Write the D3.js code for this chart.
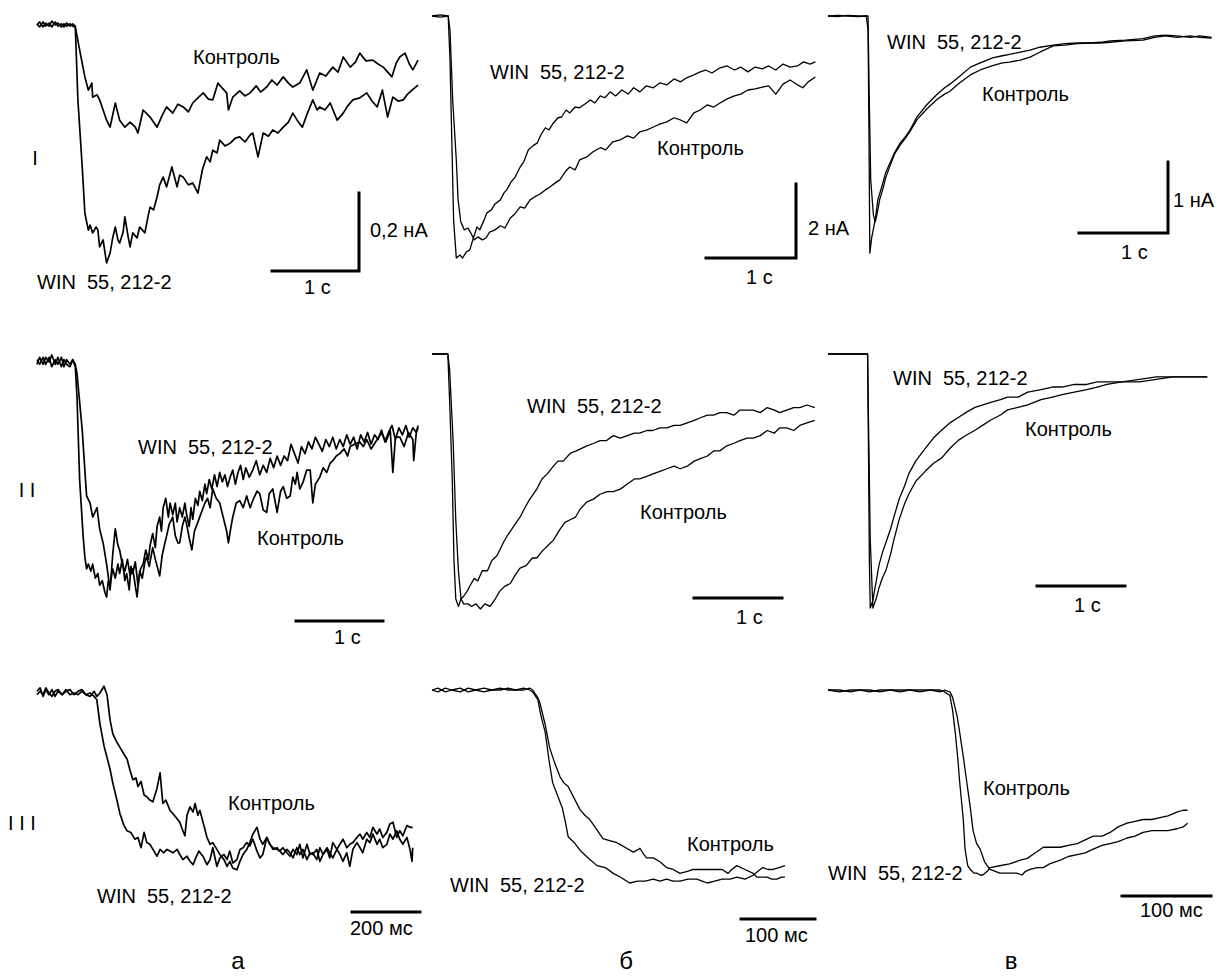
<!DOCTYPE html>
<html><head><meta charset="utf-8">
<script src="https://cdn.jsdelivr.net/npm/d3@7/dist/d3.min.js"></script>
<style>
body{margin:0;background:#fff}
svg text{font-family:"Liberation Sans",Arial,sans-serif;font-size:20px;fill:#000;white-space:pre}
.trace{fill:none;stroke:#000;stroke-width:1.3;stroke-linejoin:round}
.trace.noisy{stroke-width:1.7}
.bar{fill:none;stroke:#000;stroke-width:3;stroke-linecap:square}
</style></head><body>
<div id="fig"></div>
<script>
// traces: [time, current]. rows I-II: time in s; row III: time in ms
// row I currents: a in pA, b and c in nA; rows II-III normalized to peak

// --- column a ---
var aI_ctrl = [[0,0],[0.03,8],[0.07,-5],[0.10,5],[0.14,-3],[0.17,10],[0.21,0],[0.24,5],[0.28,-5],[0.31,3],[0.34,-3],[0.38,3],[0.41,-3],[0.44,-5],[0.49,-64],[0.55,-133],[0.59,-167],[0.63,-149],[0.64,-185],[0.69,-179],[0.72,-192],[0.76,-218],[0.80,-244],[0.84,-262],[0.90,-200],[0.95,-244],[1.01,-262],[1.07,-249],[1.13,-262],[1.16,-277],[1.22,-218],[1.30,-236],[1.38,-262],[1.44,-231],[1.49,-210],[1.56,-226],[1.62,-203],[1.68,-210],[1.74,-223],[1.79,-200],[1.85,-187],[1.91,-174],[1.97,-190],[2.02,-192],[2.08,-149],[2.13,-162],[2.18,-174],[2.20,-218],[2.25,-185],[2.33,-169],[2.39,-182],[2.45,-174],[2.52,-156],[2.57,-172],[2.64,-159],[2.70,-141],[2.76,-154],[2.83,-133],[2.89,-149],[2.94,-159],[3.02,-149],[3.10,-115],[3.17,-167],[3.25,-123],[3.32,-131],[3.40,-108],[3.46,-121],[3.52,-82],[3.60,-108],[3.66,-95],[3.71,-72],[3.78,-92],[3.86,-90],[3.92,-100],[3.98,-108],[4.08,-133],[4.13,-97],[4.17,-82],[4.23,-72],[4.28,-100],[4.32,-115],[4.38,-90]];
var aI_win = [[0,3],[0.03,-5],[0.07,8],[0.10,-3],[0.14,5],[0.17,-5],[0.21,8],[0.24,-3],[0.28,3],[0.31,-5],[0.34,5],[0.38,-3],[0.41,3],[0.44,-3],[0.47,-192],[0.52,-364],[0.55,-482],[0.59,-526],[0.61,-513],[0.64,-533],[0.68,-518],[0.70,-526],[0.72,-569],[0.76,-551],[0.78,-582],[0.80,-610],[0.84,-585],[0.87,-546],[0.90,-518],[0.93,-551],[0.95,-559],[0.99,-531],[1.01,-492],[1.05,-546],[1.07,-569],[1.10,-533],[1.15,-546],[1.18,-518],[1.24,-533],[1.28,-487],[1.30,-467],[1.34,-474],[1.38,-441],[1.41,-410],[1.45,-390],[1.49,-415],[1.55,-364],[1.61,-415],[1.64,-385],[1.68,-390],[1.74,-410],[1.79,-405],[1.85,-431],[1.90,-372],[1.95,-338],[1.99,-351],[2.02,-321],[2.07,-328],[2.10,-295],[2.16,-310],[2.22,-303],[2.28,-290],[2.33,-287],[2.39,-300],[2.45,-282],[2.48,-277],[2.54,-338],[2.60,-277],[2.66,-285],[2.71,-269],[2.77,-277],[2.83,-262],[2.89,-249],[2.94,-226],[2.99,-244],[3.05,-262],[3.10,-231],[3.17,-192],[3.22,-218],[3.25,-210],[3.31,-218],[3.37,-200],[3.45,-244],[3.52,-226],[3.57,-208],[3.63,-192],[3.71,-187],[3.79,-174],[3.85,-195],[3.91,-210],[3.97,-167],[4.03,-236],[4.09,-185],[4.15,-195],[4.21,-192],[4.26,-177],[4.31,-167],[4.38,-154]];
var aII_win = [[0,-0.01],[0.03,0.02],[0.07,-0.01],[0.10,0.02],[0.14,0],[0.17,0.03],[0.21,-0.01],[0.24,0.02],[0.28,-0.02],[0.31,0.01],[0.34,-0.01],[0.38,-0.02],[0.41,0.01],[0.44,-0.02],[0.46,-0.15],[0.49,-0.50],[0.53,-0.74],[0.55,-0.83],[0.57,-0.88],[0.59,-0.86],[0.62,-0.89],[0.64,-0.86],[0.67,-0.92],[0.70,-0.90],[0.72,-0.95],[0.75,-0.93],[0.78,-0.98],[0.80,-1.00],[0.82,-0.93],[0.84,-0.95],[0.87,-0.88],[0.90,-0.92],[0.93,-0.86],[0.95,-0.90],[0.98,-0.84],[1.01,-0.93],[1.03,-0.90],[1.06,-0.97],[1.08,-0.87],[1.10,-0.90],[1.13,-0.85],[1.16,-0.95],[1.19,-0.88],[1.22,-0.86],[1.25,-0.80],[1.28,-0.84],[1.30,-0.78],[1.33,-0.73],[1.36,-0.79],[1.38,-0.70],[1.41,-0.66],[1.43,-0.72],[1.45,-0.62],[1.48,-0.58],[1.51,-0.66],[1.53,-0.60],[1.56,-0.65],[1.59,-0.60],[1.61,-0.68],[1.64,-0.62],[1.67,-0.66],[1.70,-0.60],[1.72,-0.65],[1.75,-0.70],[1.77,-0.62],[1.79,-0.67],[1.82,-0.58],[1.85,-0.61],[1.87,-0.55],[1.90,-0.59],[1.93,-0.52],[1.95,-0.56],[1.98,-0.50],[2.01,-0.54],[2.04,-0.48],[2.07,-0.53],[2.10,-0.47],[2.13,-0.51],[2.16,-0.48],[2.19,-0.53],[2.22,-0.49],[2.25,-0.46],[2.28,-0.52],[2.31,-0.47],[2.34,-0.44],[2.37,-0.50],[2.40,-0.45],[2.44,-0.49],[2.48,-0.46],[2.52,-0.42],[2.56,-0.48],[2.60,-0.44],[2.64,-0.47],[2.68,-0.41],[2.72,-0.45],[2.76,-0.40],[2.80,-0.44],[2.84,-0.40],[2.88,-0.42],[2.92,-0.35],[2.96,-0.39],[3.00,-0.43],[3.04,-0.36],[3.08,-0.39],[3.12,-0.34],[3.16,-0.37],[3.20,-0.32],[3.24,-0.35],[3.28,-0.38],[3.32,-0.33],[3.36,-0.36],[3.40,-0.32],[3.44,-0.37],[3.48,-0.33],[3.52,-0.36],[3.56,-0.31],[3.60,-0.35],[3.64,-0.32],[3.68,-0.37],[3.72,-0.31],[3.76,-0.34],[3.80,-0.30],[3.84,-0.35],[3.88,-0.31],[3.92,-0.33],[3.96,-0.29],[4.00,-0.34],[4.04,-0.30],[4.08,-0.27],[4.12,-0.33],[4.16,-0.28],[4.20,-0.31],[4.24,-0.27],[4.28,-0.32],[4.32,-0.28],[4.36,-0.30],[4.38,-0.27]];
var aII_ctrl = [[0,0.01],[0.03,-0.01],[0.07,0.02],[0.10,-0.01],[0.14,0.02],[0.17,-0.02],[0.21,0.01],[0.24,-0.01],[0.28,0.02],[0.31,-0.02],[0.34,0.01],[0.38,-0.01],[0.41,0.01],[0.44,-0.01],[0.46,-0.05],[0.52,-0.29],[0.55,-0.46],[0.57,-0.57],[0.61,-0.60],[0.64,-0.66],[0.69,-0.62],[0.72,-0.71],[0.76,-0.77],[0.80,-0.86],[0.84,-0.97],[0.87,-0.82],[0.90,-0.71],[0.93,-0.78],[0.95,-0.80],[0.98,-0.86],[1.01,-0.89],[1.04,-0.84],[1.07,-0.91],[1.10,-0.88],[1.15,-1.00],[1.18,-0.89],[1.21,-0.92],[1.24,-0.85],[1.26,-0.83],[1.29,-0.87],[1.33,-0.79],[1.36,-0.84],[1.41,-0.91],[1.44,-0.82],[1.47,-0.77],[1.49,-0.74],[1.52,-0.69],[1.56,-0.66],[1.59,-0.74],[1.62,-0.77],[1.64,-0.77],[1.67,-0.70],[1.70,-0.66],[1.72,-0.69],[1.75,-0.75],[1.78,-0.80],[1.81,-0.72],[1.84,-0.69],[1.87,-0.66],[1.90,-0.63],[1.93,-0.60],[1.96,-0.58],[1.99,-0.62],[2.02,-0.54],[2.06,-0.58],[2.10,-0.60],[2.14,-0.66],[2.18,-0.72],[2.20,-0.77],[2.23,-0.70],[2.25,-0.66],[2.29,-0.60],[2.33,-0.59],[2.37,-0.62],[2.41,-0.57],[2.45,-0.62],[2.49,-0.58],[2.53,-0.55],[2.56,-0.56],[2.60,-0.63],[2.64,-0.64],[2.67,-0.56],[2.71,-0.54],[2.74,-0.60],[2.76,-0.64],[2.80,-0.55],[2.83,-0.53],[2.87,-0.58],[2.91,-0.57],[2.94,-0.49],[2.97,-0.52],[2.99,-0.47],[3.02,-0.54],[3.06,-0.51],[3.10,-0.46],[3.14,-0.46],[3.17,-0.60],[3.20,-0.52],[3.25,-0.49],[3.29,-0.45],[3.33,-0.47],[3.37,-0.43],[3.40,-0.42],[3.44,-0.40],[3.48,-0.39],[3.53,-0.37],[3.57,-0.40],[3.60,-0.36],[3.65,-0.35],[3.71,-0.34],[3.75,-0.36],[3.79,-0.33],[3.84,-0.37],[3.91,-0.33],[3.96,-0.30],[4.01,-0.34],[4.06,-0.29],[4.09,-0.47],[4.12,-0.32],[4.17,-0.32],[4.22,-0.36],[4.27,-0.30],[4.32,-0.33],[4.33,-0.42],[4.36,-0.30],[4.38,-0.28]];
var aIII_win = [[0,0.01],[9,0.03],[18,-0.02],[26,0.02],[35,-0.01],[44,0.02],[53,-0.02],[62,0.01],[74,-0.01],[85,0.02],[97,-0.01],[109,0],[121,-0.01],[132,0.01],[144,-0.01],[156,0],[168,-0.02],[176,-0.04],[185,-0.18],[197,-0.31],[206,-0.38],[215,-0.45],[223,-0.53],[235,-0.63],[244,-0.71],[256,-0.78],[265,-0.81],[276,-0.82],[288,-0.86],[297,-0.85],[306,-0.91],[315,-0.82],[323,-0.88],[332,-0.89],[341,-0.92],[353,-0.96],[362,-0.92],[373,-0.94],[382,-0.92],[391,-0.93],[400,-0.94],[412,-0.92],[420,-0.95],[429,-0.98],[441,-0.96],[450,-0.99],[459,-1.01],[467,-0.97],[476,-0.93],[488,-0.96],[500,-1.01],[509,-0.98],[517,-0.91],[529,-1.02],[538,-0.97],[550,-0.95],[559,-0.98],[567,-0.93],[576,-1.00],[588,-0.98],[597,-0.92],[606,-0.91],[617,-0.88],[626,-0.90],[635,-0.86],[647,-0.93],[656,-0.97],[664,-0.95],[676,-0.85],[685,-0.89],[694,-0.91],[706,-0.92],[714,-0.93],[723,-0.91],[735,-0.94],[744,-0.96],[753,-0.92],[764,-0.95],[773,-0.89],[782,-0.97],[794,-0.89],[803,-0.95],[811,-0.94],[823,-0.98],[832,-0.91],[841,-0.95],[853,-0.92],[861,-0.97],[870,-0.88],[882,-0.92],[891,-0.89],[900,-0.86],[911,-0.91],[920,-0.89],[929,-0.88],[941,-0.85],[950,-0.83],[958,-0.86],[970,-0.82],[979,-0.85],[988,-0.79],[1000,-0.83],[1008,-0.80],[1017,-0.85],[1029,-0.82],[1038,-0.77],[1047,-0.76],[1058,-0.85],[1067,-0.81],[1076,-0.84],[1088,-0.78],[1097,-0.79],[1105,-0.79]];
var aIII_ctrl = [[0,-0.01],[9,0.01],[18,-0.01],[26,0.03],[35,0],[44,-0.02],[53,0.01],[62,0.02],[74,-0.01],[85,0.01],[97,0.02],[109,-0.01],[121,0.01],[132,0.02],[144,-0.01],[156,-0.02],[168,0.01],[176,-0.02],[185,0],[197,0.04],[206,-0.01],[215,-0.16],[223,-0.24],[235,-0.29],[244,-0.32],[256,-0.36],[265,-0.39],[273,-0.45],[282,-0.51],[291,-0.50],[297,-0.55],[306,-0.52],[315,-0.60],[323,-0.61],[332,-0.63],[341,-0.64],[353,-0.56],[362,-0.47],[370,-0.65],[379,-0.63],[391,-0.69],[400,-0.71],[412,-0.74],[420,-0.76],[429,-0.81],[435,-0.84],[441,-0.72],[450,-0.67],[459,-0.70],[465,-0.65],[473,-0.72],[479,-0.69],[491,-0.78],[500,-0.85],[509,-0.89],[517,-0.88],[529,-0.92],[538,-0.95],[550,-0.98],[559,-1.02],[567,-0.99],[576,-1.03],[588,-1.04],[597,-0.99],[606,-0.95],[617,-0.92],[626,-0.88],[635,-0.83],[647,-0.79],[656,-0.86],[664,-0.89],[676,-0.85],[685,-0.89],[694,-0.92],[706,-0.91],[714,-0.93],[723,-0.95],[735,-0.92],[744,-0.94],[753,-0.97],[764,-0.91],[773,-0.95],[782,-0.92],[794,-0.98],[803,-0.94],[811,-0.95],[823,-0.92],[832,-0.99],[841,-0.95],[853,-0.91],[861,-0.94],[870,-0.97],[882,-0.92],[891,-0.95],[900,-0.99],[911,-0.94],[920,-1.02],[929,-0.92],[941,-0.88],[950,-0.91],[958,-0.94],[970,-0.86],[979,-0.88],[988,-0.83],[1000,-0.89],[1008,-0.86],[1017,-0.91],[1029,-0.89],[1038,-0.83],[1047,-0.86],[1058,-0.81],[1067,-0.86],[1076,-0.89],[1088,-0.85],[1097,-0.92],[1103,-0.99],[1105,-0.91]];

// --- column б ---
var bI_win = [[0,0],[0.09,0.03],[0.18,0],[0.20,-1.19],[0.22,-3.35],[0.24,-5.51],[0.27,-6.54],[0.31,-6.46],[0.34,-6.54],[0.38,-6.38],[0.42,-6.32],[0.46,-6.00],[0.50,-5.70],[0.53,-5.78],[0.58,-5.51],[0.61,-5.32],[0.66,-5.24],[0.70,-5.08],[0.76,-4.97],[0.80,-4.78],[0.83,-4.70],[0.88,-4.48],[0.92,-4.37],[0.98,-4.08],[1.02,-3.94],[1.07,-3.62],[1.12,-3.51],[1.17,-3.43],[1.21,-3.21],[1.26,-3.02],[1.30,-3.08],[1.34,-2.92],[1.40,-2.75],[1.44,-2.73],[1.49,-2.54],[1.53,-2.62],[1.59,-2.46],[1.64,-2.48],[1.70,-2.38],[1.76,-2.27],[1.81,-2.35],[1.87,-2.16],[1.92,-2.21],[1.98,-2.05],[2.04,-2.16],[2.11,-2.00],[2.18,-2.11],[2.24,-1.94],[2.31,-2.05],[2.38,-1.89],[2.46,-1.94],[2.53,-1.81],[2.61,-1.86],[2.69,-1.70],[2.76,-1.78],[2.83,-1.67],[2.91,-1.59],[2.98,-1.51],[3.04,-1.46],[3.11,-1.54],[3.20,-1.40],[3.28,-1.35],[3.36,-1.46],[3.43,-1.38],[3.51,-1.51],[3.59,-1.38],[3.67,-1.43],[3.74,-1.35],[3.82,-1.46],[3.90,-1.30],[3.98,-1.38],[4.06,-1.35],[4.13,-1.24],[4.20,-1.30],[4.26,-1.24]];
var bI_ctrl = [[0,0],[0.09,-0.03],[0.18,0],[0.20,-0.38],[0.23,-2.27],[0.27,-3.89],[0.29,-4.97],[0.32,-5.57],[0.36,-5.78],[0.40,-5.73],[0.43,-5.86],[0.47,-6.05],[0.51,-5.97],[0.56,-6.05],[0.60,-6.00],[0.64,-5.84],[0.70,-5.78],[0.76,-5.67],[0.81,-5.73],[0.87,-5.46],[0.92,-5.35],[0.98,-5.16],[1.03,-5.19],[1.09,-4.97],[1.14,-4.89],[1.20,-4.81],[1.26,-4.70],[1.31,-4.62],[1.37,-4.51],[1.42,-4.43],[1.48,-4.21],[1.53,-4.08],[1.59,-4.16],[1.64,-3.89],[1.72,-3.81],[1.79,-3.67],[1.87,-3.56],[1.93,-3.62],[2.01,-3.40],[2.09,-3.35],[2.17,-3.24],[2.24,-3.30],[2.31,-3.13],[2.39,-3.08],[2.46,-3.00],[2.53,-2.92],[2.61,-2.86],[2.69,-2.75],[2.76,-2.81],[2.83,-2.89],[2.91,-2.62],[2.98,-2.54],[3.06,-2.40],[3.13,-2.46],[3.20,-2.35],[3.28,-2.24],[3.36,-2.16],[3.43,-2.11],[3.51,-2.00],[3.59,-1.97],[3.67,-1.92],[3.74,-1.89],[3.82,-2.11],[3.90,-1.84],[3.98,-1.73],[4.06,-1.86],[4.12,-1.94],[4.18,-1.78],[4.26,-1.65]];
var bII_win = [[0,0],[0.09,0],[0.18,0],[0.20,-0.18],[0.23,-0.49],[0.25,-0.81],[0.27,-0.96],[0.30,-0.99],[0.33,-0.96],[0.36,-0.95],[0.40,-0.93],[0.43,-0.91],[0.48,-0.88],[0.52,-0.89],[0.57,-0.85],[0.63,-0.85],[0.68,-0.81],[0.74,-0.79],[0.81,-0.74],[0.86,-0.71],[0.92,-0.68],[1.00,-0.64],[1.06,-0.60],[1.11,-0.57],[1.19,-0.53],[1.25,-0.49],[1.31,-0.47],[1.38,-0.44],[1.43,-0.42],[1.49,-0.42],[1.57,-0.39],[1.64,-0.38],[1.70,-0.37],[1.76,-0.36],[1.84,-0.35],[1.91,-0.34],[1.98,-0.34],[2.06,-0.32],[2.14,-0.33],[2.22,-0.32],[2.30,-0.31],[2.36,-0.31],[2.44,-0.30],[2.51,-0.30],[2.59,-0.29],[2.67,-0.29],[2.75,-0.28],[2.82,-0.28],[2.90,-0.27],[2.98,-0.26],[3.05,-0.25],[3.13,-0.24],[3.20,-0.24],[3.27,-0.23],[3.35,-0.23],[3.43,-0.24],[3.50,-0.22],[3.58,-0.22],[3.65,-0.22],[3.73,-0.23],[3.81,-0.21],[3.89,-0.22],[3.95,-0.23],[4.03,-0.22],[4.11,-0.21],[4.18,-0.21],[4.26,-0.20],[4.35,-0.21]];
var bII_ctrl = [[0,0],[0.09,0],[0.18,0],[0.20,-0.06],[0.24,-0.34],[0.27,-0.65],[0.30,-0.85],[0.33,-0.96],[0.36,-0.98],[0.41,-0.98],[0.45,-0.99],[0.50,-0.98],[0.55,-1.00],[0.60,-0.98],[0.66,-0.99],[0.72,-0.96],[0.77,-0.93],[0.83,-0.91],[0.89,-0.90],[0.94,-0.87],[1.00,-0.84],[1.07,-0.83],[1.14,-0.80],[1.19,-0.80],[1.26,-0.77],[1.32,-0.75],[1.38,-0.73],[1.45,-0.69],[1.51,-0.66],[1.57,-0.65],[1.63,-0.64],[1.68,-0.61],[1.76,-0.58],[1.83,-0.57],[1.91,-0.55],[1.99,-0.54],[2.06,-0.54],[2.14,-0.53],[2.22,-0.51],[2.30,-0.49],[2.36,-0.49],[2.44,-0.48],[2.51,-0.47],[2.59,-0.46],[2.67,-0.45],[2.75,-0.44],[2.82,-0.45],[2.90,-0.44],[2.98,-0.42],[3.05,-0.41],[3.13,-0.40],[3.20,-0.38],[3.27,-0.38],[3.35,-0.36],[3.43,-0.35],[3.50,-0.34],[3.58,-0.33],[3.65,-0.33],[3.73,-0.32],[3.81,-0.30],[3.89,-0.31],[3.95,-0.29],[4.03,-0.29],[4.11,-0.30],[4.18,-0.28],[4.26,-0.27],[4.35,-0.26]];
var bIII_win = [[0,0],[8,0.01],[18,-0.01],[27,0],[38,-0.01],[49,0.01],[59,0],[70,-0.01],[81,0],[92,0.01],[103,0],[113,0],[124,0.01],[132,0],[136,-0.01],[143,-0.05],[147,-0.13],[153,-0.22],[158,-0.36],[163,-0.48],[169,-0.54],[176,-0.61],[180,-0.68],[184,-0.76],[192,-0.79],[200,-0.83],[211,-0.87],[223,-0.91],[234,-0.92],[245,-0.95],[255,-0.97],[267,-1.00],[278,-0.99],[288,-0.99],[299,-0.98],[308,-0.99],[317,-0.98],[326,-0.99],[335,-0.99],[346,-0.98],[358,-0.98],[365,-0.99],[372,-1.00],[382,-0.99],[392,-0.98],[403,-0.98],[412,-0.97],[423,-0.98],[434,-0.96],[440,-0.94],[447,-0.92],[454,-0.93],[461,-0.93],[469,-0.92],[477,-0.91]];
var bIII_ctrl = [[0,0],[8,-0.01],[18,0.01],[27,0],[38,0.01],[49,-0.01],[59,0],[70,0.01],[81,0],[92,0],[103,0.01],[113,0],[124,0],[132,0.01],[136,0],[143,-0.04],[146,-0.07],[153,-0.18],[159,-0.30],[166,-0.38],[173,-0.45],[178,-0.48],[184,-0.50],[192,-0.56],[200,-0.62],[207,-0.65],[213,-0.67],[222,-0.72],[231,-0.77],[240,-0.78],[249,-0.79],[254,-0.80],[263,-0.82],[272,-0.84],[277,-0.83],[281,-0.82],[286,-0.85],[290,-0.87],[299,-0.87],[308,-0.89],[317,-0.92],[326,-0.93],[335,-0.95],[345,-0.94],[353,-0.93],[362,-0.93],[372,-0.93],[381,-0.93],[392,-0.93],[400,-0.95],[405,-0.93],[412,-0.91],[423,-0.93],[434,-0.95],[439,-0.97],[446,-0.97],[453,-0.97],[459,-0.98],[466,-0.98],[472,-0.97],[477,-0.97]];

// --- column в ---
var cI_win = [[0,0],[0.11,0.01],[0.22,0],[0.34,-0.01],[0.43,0],[0.45,-0.20],[0.46,-1.59],[0.47,-3.34],[0.49,-3.13],[0.53,-2.87],[0.56,-2.59],[0.61,-2.38],[0.65,-2.20],[0.70,-2.06],[0.75,-1.92],[0.81,-1.79],[0.87,-1.70],[0.92,-1.61],[1.00,-1.42],[1.11,-1.25],[1.22,-1.11],[1.31,-1.01],[1.37,-0.96],[1.48,-0.85],[1.60,-0.72],[1.71,-0.66],[1.85,-0.59],[1.96,-0.56],[2.04,-0.54],[2.16,-0.51],[2.27,-0.48],[2.38,-0.44],[2.53,-0.41],[2.66,-0.39],[2.80,-0.38],[2.94,-0.38],[3.06,-0.37],[3.17,-0.35],[3.34,-0.34],[3.54,-0.32],[3.67,-0.28],[3.79,-0.27],[3.92,-0.28],[4.07,-0.30],[4.18,-0.28],[4.31,-0.30]];
var cI_ctrl = [[0,0],[0.11,-0.01],[0.22,0.01],[0.34,0],[0.43,0],[0.45,0],[0.46,-0.90],[0.48,-2.31],[0.51,-2.80],[0.53,-2.90],[0.55,-2.80],[0.58,-2.59],[0.62,-2.42],[0.65,-2.27],[0.70,-2.10],[0.75,-1.94],[0.81,-1.82],[0.87,-1.72],[0.92,-1.63],[1.00,-1.46],[1.11,-1.31],[1.22,-1.18],[1.31,-1.10],[1.37,-1.06],[1.48,-0.94],[1.60,-0.83],[1.71,-0.76],[1.85,-0.70],[1.96,-0.66],[2.04,-0.65],[2.16,-0.62],[2.27,-0.58],[2.38,-0.51],[2.53,-0.42],[2.66,-0.41],[2.80,-0.39],[2.94,-0.38],[3.06,-0.38],[3.17,-0.37],[3.34,-0.35],[3.54,-0.34],[3.67,-0.30],[3.79,-0.28],[3.92,-0.30],[4.07,-0.28],[4.18,-0.30],[4.31,-0.31]];
var cII_win = [[0,0],[0.11,0],[0.22,0],[0.34,0],[0.43,0],[0.45,0],[0.46,-0.38],[0.47,-0.81],[0.48,-1.00],[0.51,-0.97],[0.53,-0.93],[0.55,-0.89],[0.58,-0.83],[0.62,-0.78],[0.66,-0.74],[0.71,-0.69],[0.75,-0.64],[0.81,-0.57],[0.87,-0.52],[0.92,-0.47],[1.00,-0.42],[1.11,-0.37],[1.20,-0.33],[1.29,-0.30],[1.39,-0.27],[1.48,-0.25],[1.57,-0.23],[1.67,-0.21],[1.76,-0.20],[1.85,-0.19],[1.96,-0.18],[2.04,-0.17],[2.16,-0.17],[2.27,-0.15],[2.42,-0.14],[2.55,-0.13],[2.66,-0.13],[2.80,-0.12],[2.94,-0.12],[3.06,-0.11],[3.17,-0.11],[3.34,-0.11],[3.54,-0.10],[3.73,-0.09],[3.92,-0.09],[4.12,-0.09],[4.31,-0.09]];
var cII_ctrl = [[0,0],[0.11,0],[0.22,0],[0.34,0],[0.43,0],[0.45,0],[0.46,-0.26],[0.48,-0.73],[0.51,-1.00],[0.53,-0.98],[0.55,-0.96],[0.58,-0.92],[0.62,-0.88],[0.66,-0.85],[0.71,-0.79],[0.75,-0.73],[0.81,-0.65],[0.87,-0.59],[0.92,-0.55],[1.00,-0.50],[1.11,-0.46],[1.20,-0.43],[1.29,-0.41],[1.39,-0.37],[1.48,-0.34],[1.57,-0.32],[1.67,-0.30],[1.76,-0.28],[1.85,-0.26],[1.96,-0.24],[2.04,-0.22],[2.16,-0.21],[2.27,-0.20],[2.42,-0.18],[2.55,-0.17],[2.66,-0.16],[2.80,-0.15],[2.94,-0.14],[3.06,-0.13],[3.17,-0.12],[3.34,-0.11],[3.54,-0.11],[3.73,-0.10],[3.92,-0.09],[4.12,-0.09],[4.31,-0.09]];
var cIII_win = [[0,0],[13,0],[25,-0.01],[36,0],[47,0],[58,-0.01],[70,0],[81,0],[92,0],[103,-0.01],[115,0],[126,0],[131,-0.01],[137,-0.03],[140,-0.11],[143,-0.23],[146,-0.38],[148,-0.50],[152,-0.70],[154,-0.86],[157,-0.95],[160,-0.97],[164,-0.99],[167,-0.99],[171,-1.00],[174,-1.00],[179,-0.98],[182,-0.96],[193,-0.95],[204,-0.94],[216,-0.92],[224,-0.91],[233,-0.88],[242,-0.85],[252,-0.85],[261,-0.85],[270,-0.84],[280,-0.83],[289,-0.81],[298,-0.79],[308,-0.79],[317,-0.77],[326,-0.74],[336,-0.72],[345,-0.71],[354,-0.70],[364,-0.70],[373,-0.69],[382,-0.68],[392,-0.66],[399,-0.65],[404,-0.65]];
var cIII_ctrl = [[0,0],[13,-0.01],[25,0],[36,0],[47,-0.01],[58,0],[70,0],[81,-0.01],[92,0],[103,0],[115,0],[126,-0.01],[131,0],[137,-0.01],[140,-0.04],[145,-0.14],[148,-0.23],[152,-0.36],[156,-0.50],[160,-0.64],[163,-0.76],[167,-0.83],[171,-0.86],[176,-0.93],[182,-0.97],[188,-0.98],[193,-0.99],[204,-0.99],[212,-0.99],[218,-1.00],[222,-0.98],[227,-0.97],[235,-0.96],[242,-0.96],[249,-0.94],[261,-0.92],[270,-0.90],[280,-0.89],[289,-0.88],[298,-0.86],[308,-0.84],[317,-0.83],[326,-0.82],[336,-0.80],[345,-0.79],[354,-0.77],[364,-0.76],[373,-0.76],[382,-0.76],[392,-0.75],[399,-0.74],[404,-0.72]];

// scale bars (time, amplitude) and texts
var barTime = [1, 1, 1, 1, 1, 1, 200, 100, 100];
var barAmp = [200, 2, 1, 0, 0, 0, 0, 0, 0];
var barTimeText = ["1 с", "1 с", "1 с", "1 с", "1 с", "1 с", "200 мс", "100 мс", "100 мс"];
var barAmpText = ["0,2 нА", "2 нА", "1 нА", "", "", "", "", "", ""];
var winText = "WIN  55, 212-2";
var ctrlText = "Контроль";
var rowText = ["I", "I I", "I I I"];
var colText = ["а", "б", "в"];

var winData = [aI_win, bI_win, cI_win, aII_win, bII_win, cII_win, aIII_win, bIII_win, cIII_win];
var ctrlData = [aI_ctrl, bI_ctrl, cI_ctrl, aII_ctrl, bII_ctrl, cII_ctrl, aIII_ctrl, bIII_ctrl, cIII_ctrl];

// layout: x0 px at t=0, kx px per time unit, y0 baseline px, ky px per current unit
// bx,by corner of scale bar; text anchors
var layout = [
  {x0:37, kx:87, y0:25, ky:0.39, bx:359, by:271, win:[37,289], ctrl:[193,64], tt:[304,294], at:[370,237], noisy:true},
  {x0:432, kx:90, y0:16, ky:37, bx:796, by:258, win:[490,79], ctrl:[657,155], tt:[746,284], at:[808,235]},
  {x0:828, kx:89, y0:16, ky:71, bx:1168, by:233, win:[887,49], ctrl:[982,101], tt:[1121,259], at:[1173,207]},
  {x0:37, kx:87, y0:362, ky:235, bx:383, by:621, win:[138,454], ctrl:[257,545], tt:[334,644], noisy:true},
  {x0:432, kx:88, y0:354, ky:255, bx:782, by:598, win:[527,413], ctrl:[640,519], tt:[736,624]},
  {x0:828, kx:88, y0:354, ky:254, bx:1125, by:586, win:[893,385], ctrl:[1025,436], tt:[1074,612]},
  {x0:37, kx:0.34, y0:693, ky:170, bx:420, by:912, win:[97,903], ctrl:[228,810], tt:[350,935], noisy:true},
  {x0:432, kx:0.74, y0:690, ky:193, bx:815, by:919, win:[450,892], ctrl:[687,851], tt:[745,942]},
  {x0:828, kx:0.89, y0:690, ky:185, bx:1211, by:896, win:[828,880], ctrl:[983,795], tt:[1140,917]}
];
var rowPos = [[35,165], [27,497], [22,830]];
var colPos = [[238,969], [626,969], [1011,969]];

var svg = d3.select("#fig").append("svg")
    .attr("width", 1219)
    .attr("height", 976);

layout.forEach(function(p, i) {
    var x = d3.scaleLinear().domain([0, 1]).range([p.x0, p.x0 + p.kx]);
    var y = d3.scaleLinear().domain([0, -1]).range([p.y0, p.y0 + p.ky]);
    var line = d3.line()
        .x(function(d) { return x(d[0]); })
        .y(function(d) { return y(d[1]); });

    var g = svg.append("g").attr("class", "panel");

    g.selectAll("path.trace")
        .data([ctrlData[i], winData[i]])
        .enter()
        .append("path")
        .attr("class", "trace")
        .classed("noisy", !!p.noisy)
        .attr("d", line);

    // scale bar: horizontal = time, vertical = amplitude
    var w = x(barTime[i]) - x(0);
    var h = y(-barAmp[i]) - y(0);
    var d = "M" + (p.bx - w) + "," + p.by + "H" + p.bx;
    if (barAmp[i]) d += "V" + (p.by - h);
    g.append("path").attr("class", "bar").attr("d", d);

    g.append("text").attr("x", p.tt[0]).attr("y", p.tt[1]).text(barTimeText[i]);
    if (p.at) g.append("text").attr("x", p.at[0]).attr("y", p.at[1]).text(barAmpText[i]);
    g.append("text").attr("x", p.win[0]).attr("y", p.win[1]).text(winText);
    g.append("text").attr("x", p.ctrl[0]).attr("y", p.ctrl[1]).text(ctrlText);
});

svg.selectAll("text.row")
    .data(rowText)
    .enter()
    .append("text")
    .attr("class", "row")
    .attr("x", function(d, i) { return rowPos[i][0]; })
    .attr("y", function(d, i) { return rowPos[i][1]; })
    .attr("text-anchor", "middle")
    .text(function(d) { return d; });

svg.selectAll("text.col")
    .data(colText)
    .enter()
    .append("text")
    .attr("class", "col")
    .attr("x", function(d, i) { return colPos[i][0]; })
    .attr("y", function(d, i) { return colPos[i][1]; })
    .attr("text-anchor", "middle")
    .style("font-size", "24px")
    .text(function(d) { return d; });
</script>
</body></html>
